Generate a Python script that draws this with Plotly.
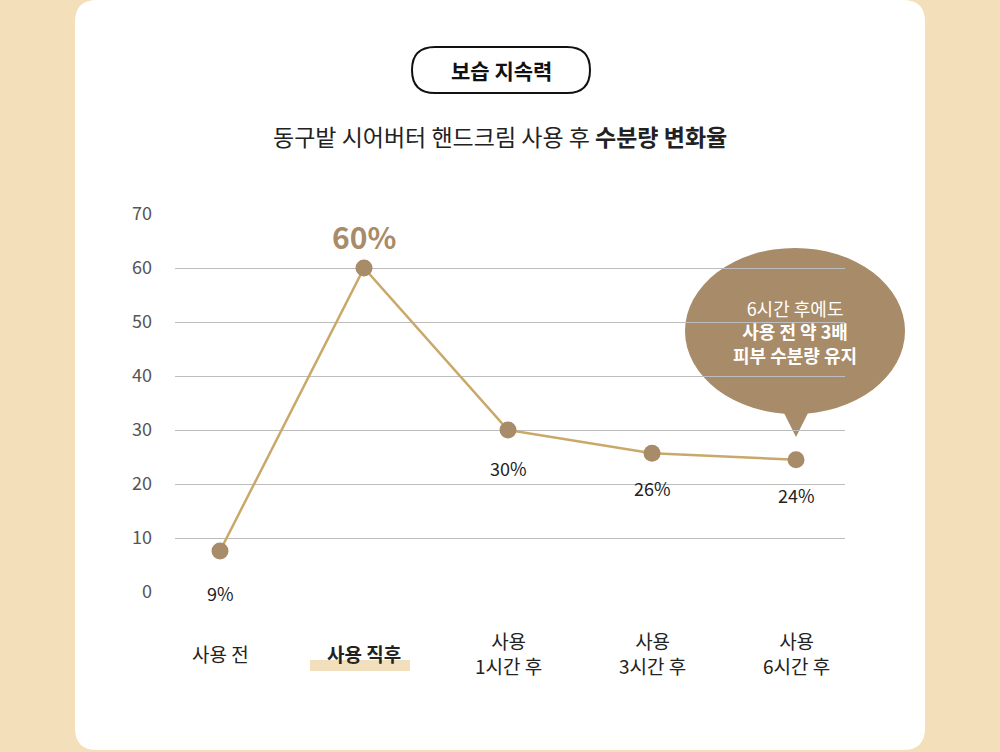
import plotly.graph_objects as go

categories = ["사용 전", "사용 직후", "사용<br>1시간 후", "사용<br>3시간 후", "사용<br>6시간 후"]
values = [7.6, 60, 30, 25.7, 24.5]
labels = ["9%", "60%", "30%", "26%", "24%"]
yticks = [0, 10, 20, 30, 40, 50, 60, 70]

FONT = "Noto Sans CJK KR"
BROWN = "#a88b68"
LINE = "#c9a96a"

L, R, T, B = 175, 155, 214, 160
W, H = 1000, 752


def px(x):
    return (x - L) / (W - L - R)


def py(y):
    return (H - B - y) / (H - T - B)


def rrect(x0, y0, x1, y1, r):
    return (f"M {px(x0 + r)} {py(y0)} L {px(x1 - r)} {py(y0)} "
            f"Q {px(x1)} {py(y0)} {px(x1)} {py(y0 + r)} L {px(x1)} {py(y1 - r)} "
            f"Q {px(x1)} {py(y1)} {px(x1 - r)} {py(y1)} L {px(x0 + r)} {py(y1)} "
            f"Q {px(x0)} {py(y1)} {px(x0)} {py(y1 - r)} L {px(x0)} {py(y0 + r)} "
            f"Q {px(x0)} {py(y0)} {px(x0 + r)} {py(y0)} Z")


x = list(range(len(categories)))
fig = go.Figure()
fig.add_trace(go.Scatter(
    x=x, y=values, mode="lines+markers",
    line=dict(color=LINE, width=2.5),
    marker=dict(color=BROWN, size=17),
    hoverinfo="skip", showlegend=False,
))

shapes = [
    dict(type="path", xref="paper", yref="paper", path=rrect(75, 0, 925, 750, 22),
         fillcolor="white", line=dict(width=0), layer="below"),
    dict(type="path", xref="paper", yref="paper", path=rrect(412, 47, 590, 93, 23),
         fillcolor="rgba(0,0,0,0)", line=dict(color="#111", width=2), layer="between"),
    dict(type="rect", xref="paper", yref="paper", x0=px(310), x1=px(410), y0=py(660), y1=py(671),
         fillcolor="#f1dfbd", line=dict(width=0), layer="below"),
    dict(type="circle", xref="paper", yref="paper", x0=px(685), x1=px(905), y0=py(248), y1=py(414),
         fillcolor=BROWN, line=dict(width=0), layer="between"),
    dict(type="path", xref="paper", yref="paper",
         path=f"M {px(780)} {py(405)} L {px(796)} {py(437)} L {px(812)} {py(405)} Z",
         fillcolor=BROWN, line=dict(width=0), layer="between"),
]

ann = [
    dict(text="<b>보습 지속력</b>", x=px(501), y=py(70), font=dict(size=21, color="#111")),
    dict(text="동구밭 시어버터 핸드크림 사용 후 <b>수분량 변화율</b>", x=px(500), y=py(136),
         font=dict(size=23, color="#222")),
    dict(text="6시간 후에도<br><b>사용 전 약 3배</b><br><b>피부 수분량 유지</b>", x=px(795), y=py(331),
         font=dict(size=18, color="white"), align="center"),
]
for i, c in enumerate(categories):
    txt = f"<b>{c}</b>" if i == 1 else c
    ann.append(dict(text=txt, x=i, xref="x", y=py(653), font=dict(size=19, color="#222"),
                    align="center"))
offsets = [-42, 0, -38, -35, -35]
for i, (v, lab) in enumerate(zip(values, labels)):
    if i == 1:
        ann.append(dict(text=f"<b>{lab}</b>", x=i, xref="x", y=v, yref="y", yshift=32,
                        font=dict(size=30, color=BROWN)))
    else:
        ann.append(dict(text=lab, x=i, xref="x", y=v, yref="y", yshift=offsets[i],
                        font=dict(size=18, color="#222")))
for a in ann:
    a.setdefault("xref", "paper")
    a.setdefault("yref", "paper")
    a["showarrow"] = False
    a["xanchor"] = "center"
    a["yanchor"] = "middle"
    a["font"]["family"] = FONT

fig.update_layout(
    width=W, height=H, margin=dict(l=L, r=R, t=T, b=B),
    paper_bgcolor="#f3e0bb", plot_bgcolor="rgba(0,0,0,0)",
    font=dict(family=FONT), shapes=shapes, annotations=ann,
    xaxis=dict(range=[-0.3125, 4.34], showticklabels=False, showgrid=False, zeroline=False,
               fixedrange=True),
    yaxis=dict(range=[0, 70], tickvals=yticks, showgrid=True, gridcolor="#bdbdbd",
               zeroline=False, showline=False, ticks="", ticklabelstandoff=22,
               tickfont=dict(size=18, color="#555"), fixedrange=True),
)
fig.write_html("out.html", post_script="document.body.style.margin='0';",
               config={"displayModeBar": False})
